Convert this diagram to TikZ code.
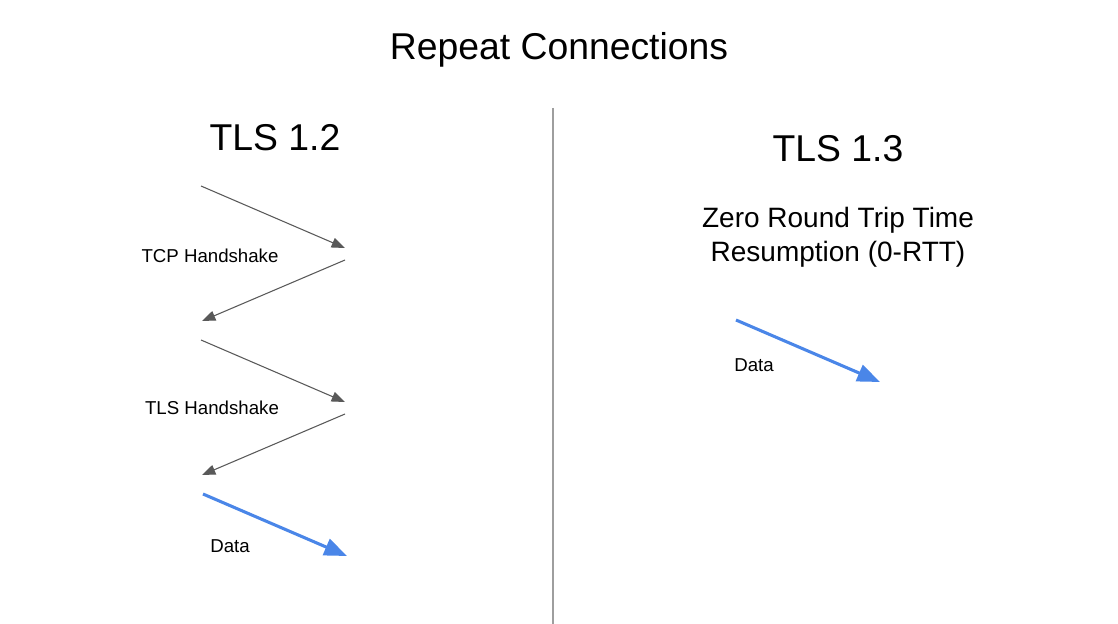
\documentclass[tikz,border=0pt]{standalone}
\usepackage{fontspec}
\setmainfont{Liberation Sans}
\usetikzlibrary{arrows.meta}
\definecolor{msggray}{HTML}{595959}
\definecolor{datablue}{HTML}{4A86E8}
\definecolor{rulegray}{HTML}{9E9E9E}
\begin{document}
\begin{tikzpicture}[x=0.75pt, y=-0.75pt,
    msg/.style={draw=msggray, line width=0.8pt, -{Triangle[length=10pt, width=7.5pt]}},
    data/.style={draw=datablue, line width=2.3pt, -{Triangle[length=17pt, width=13pt]}},
    lbl/.style={font=\fontsize{14}{16}\selectfont},
    head/.style={font=\fontsize{28}{32}\selectfont}]
    \useasboundingbox (0,0) rectangle (1118,624);
    % titles
    \node[head] (title) at (559,50) {Repeat Connections};
    \node[head] (old) at (275,138) {TLS 1.2};
    \node[head] (new) at (838,149) {TLS 1.3};
    \node[align=center, font=\fontsize{21}{25.5}\selectfont] (zrtt) at (838,237) {Zero Round Trip Time\\Resumption (0-RTT)};
    % divider
    \coordinate (top) at (553,108);
    \coordinate (bottom) at (553,624);
    \draw[rulegray, line width=1.1pt] (top) -- (bottom);
    % TLS 1.2 flights
    \coordinate (c1) at (201,186);
    \coordinate (s1) at (345,248);
    \coordinate (s2) at (345,260);
    \coordinate (c2) at (202,321);
    \coordinate (c3) at (201,340);
    \coordinate (s3) at (345,402);
    \coordinate (s4) at (345,414);
    \coordinate (c4) at (202,475);
    \coordinate (c5) at (203,494);
    \coordinate (s5) at (347,556);
    \draw[msg] (c1) -- (s1);
    \draw[msg] (s2) -- (c2);
    \draw[msg] (c3) -- (s3);
    \draw[msg] (s4) -- (c4);
    \draw[data] (c5) -- (s5);
    \node[lbl] (tcp) at (210,256) {TCP Handshake};
    \node[lbl] (tls) at (212,408) {TLS Handshake};
    \node[lbl] (olddata) at (230,546) {Data};
    % TLS 1.3 flight
    \coordinate (c6) at (736,320);
    \coordinate (s6) at (880,382);
    \draw[data] (c6) -- (s6);
    \node[lbl] (newdata) at (754,365) {Data};
\end{tikzpicture}
\end{document}
